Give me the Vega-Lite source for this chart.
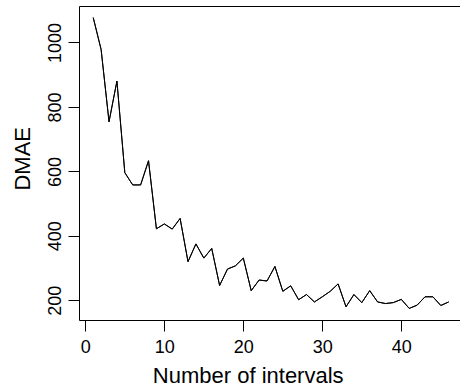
{
  "$schema": "https://vega.github.io/schema/vega-lite/v6.json",
  "width": 381,
  "height": 314,
  "autosize": {"type": "none"},
  "padding": {"left": 79, "top": 6, "right": 0, "bottom": 66},
  "config": {
    "view": {"stroke": null},
    "font": "Liberation Sans",
    "axis": {
      "grid": false,
      "domainColor": "black",
      "domainWidth": 1,
      "tickColor": "black",
      "tickWidth": 1,
      "tickSize": 11,
      "labelColor": "black",
      "labelFont": "Liberation Sans",
      "labelFontSize": 18,
      "titleColor": "black",
      "titleFont": "Liberation Sans",
      "titleFontSize": 22,
      "titleFontWeight": "normal"
    }
  },
  "data": {
    "values": [
      {"n": 1, "dmae": 1077}, {"n": 2, "dmae": 978}, {"n": 3, "dmae": 754}, {"n": 4, "dmae": 880},
      {"n": 5, "dmae": 596}, {"n": 6, "dmae": 558}, {"n": 7, "dmae": 558}, {"n": 8, "dmae": 633},
      {"n": 9, "dmae": 422}, {"n": 10, "dmae": 437}, {"n": 11, "dmae": 421}, {"n": 12, "dmae": 454},
      {"n": 13, "dmae": 320}, {"n": 14, "dmae": 375}, {"n": 15, "dmae": 331}, {"n": 16, "dmae": 361},
      {"n": 17, "dmae": 246}, {"n": 18, "dmae": 297}, {"n": 19, "dmae": 307}, {"n": 20, "dmae": 331},
      {"n": 21, "dmae": 230}, {"n": 22, "dmae": 263}, {"n": 23, "dmae": 260}, {"n": 24, "dmae": 305},
      {"n": 25, "dmae": 228}, {"n": 26, "dmae": 245}, {"n": 27, "dmae": 202}, {"n": 28, "dmae": 218},
      {"n": 29, "dmae": 195}, {"n": 30, "dmae": 211}, {"n": 31, "dmae": 228}, {"n": 32, "dmae": 251},
      {"n": 33, "dmae": 180}, {"n": 34, "dmae": 218}, {"n": 35, "dmae": 193}, {"n": 36, "dmae": 230},
      {"n": 37, "dmae": 195}, {"n": 38, "dmae": 190}, {"n": 39, "dmae": 193}, {"n": 40, "dmae": 203},
      {"n": 41, "dmae": 175}, {"n": 42, "dmae": 185}, {"n": 43, "dmae": 211}, {"n": 44, "dmae": 211},
      {"n": 45, "dmae": 184}, {"n": 46, "dmae": 195}
    ]
  },
  "encoding": {
    "y": {
      "field": "dmae", "type": "quantitative",
      "scale": {"domain": [139, 1113], "nice": false, "zero": false},
      "axis": {
        "values": [200, 400, 600, 800, 1000],
        "format": "d",
        "labelAngle": 270,
        "labelAlign": "center",
        "labelBaseline": "alphabetic",
        "labelPadding": 8,
        "title": "DMAE",
        "titleAngle": 270,
        "titleAlign": "center",
        "titleBaseline": "alphabetic",
        "titleX": -49.7,
        "titleY": 152.3
      }
    }
  },
  "layer": [
    {
      "mark": {"type": "line", "color": "black", "strokeWidth": 1},
      "encoding": {
        "x": {
          "field": "n", "type": "quantitative",
          "scale": {"domain": [-0.8, 47.43], "nice": false, "zero": false},
          "axis": {
            "orient": "bottom",
            "values": [0, 10, 20, 30, 40],
            "format": "d",
            "labelBaseline": "alphabetic",
            "labelPadding": 21.7,
            "title": "Number of intervals",
            "titleAlign": "center",
            "titleBaseline": "alphabetic",
            "titleX": 168.7,
            "titleY": 62
          }
        }
      }
    },
    {
      "mark": {"type": "line", "color": "black", "strokeWidth": 1},
      "encoding": {
        "x": {
          "field": "n", "type": "quantitative",
          "axis": {"orient": "top", "labels": false, "ticks": false, "title": null}
        }
      }
    }
  ],
  "resolve": {"axis": {"x": "independent"}}
}
